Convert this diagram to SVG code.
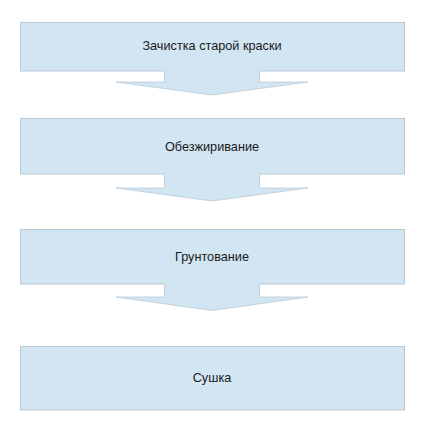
<svg xmlns="http://www.w3.org/2000/svg" width="424" height="433" viewBox="0 0 424 433">
<style>
.box{fill:#d1e5f3;stroke:#b9c8d2;stroke-width:1}
.arr{fill:#d1e5f3;stroke:none}
.arrl{fill:none;stroke:#bccad4;stroke-width:0.8}
.lbl{font-family:"Liberation Sans",Arial,sans-serif;font-size:12.7px;fill:#1a1a1a;text-anchor:middle;dominant-baseline:central}
</style>
<rect width="424" height="433" fill="#ffffff"/>
<g id="n1">
<rect class="box" x="20.5" y="22.5" width="384" height="48.5"/>
<text class="lbl" x="212" y="46">Зачистка старой краски</text>
</g>
<g id="n2">
<rect class="box" x="20.5" y="118.5" width="384" height="55.5"/>
<text class="lbl" x="212" y="146.5">Обезжиривание</text>
</g>
<g id="n3">
<rect class="box" x="20.5" y="229.5" width="384" height="54.5"/>
<text class="lbl" x="212" y="256.5">Грунтование</text>
</g>
<g id="n4">
<rect class="box" x="20.5" y="346.5" width="384" height="63.5"/>
<text class="lbl" x="212" y="378">Сушка</text>
</g>
<g id="connectors">
<path class="arr" d="M164.5,70 V82 H116 L212,95 L308,82 H259.5 V70 Z"/>
<path class="arrl" d="M164.5,71 V82 H116 L212,95 L308,82 H259.5 V71"/>
<path class="arr" d="M164.5,173 V188 H116 L212,201 L308,188 H259.5 V173 Z"/>
<path class="arrl" d="M164.5,174 V188 H116 L212,201 L308,188 H259.5 V174"/>
<path class="arr" d="M164.5,283 V297 H116 L212,310.5 L308,297 H259.5 V283 Z"/>
<path class="arrl" d="M164.5,284 V297 H116 L212,310.5 L308,297 H259.5 V284"/>
</g>
</svg>
